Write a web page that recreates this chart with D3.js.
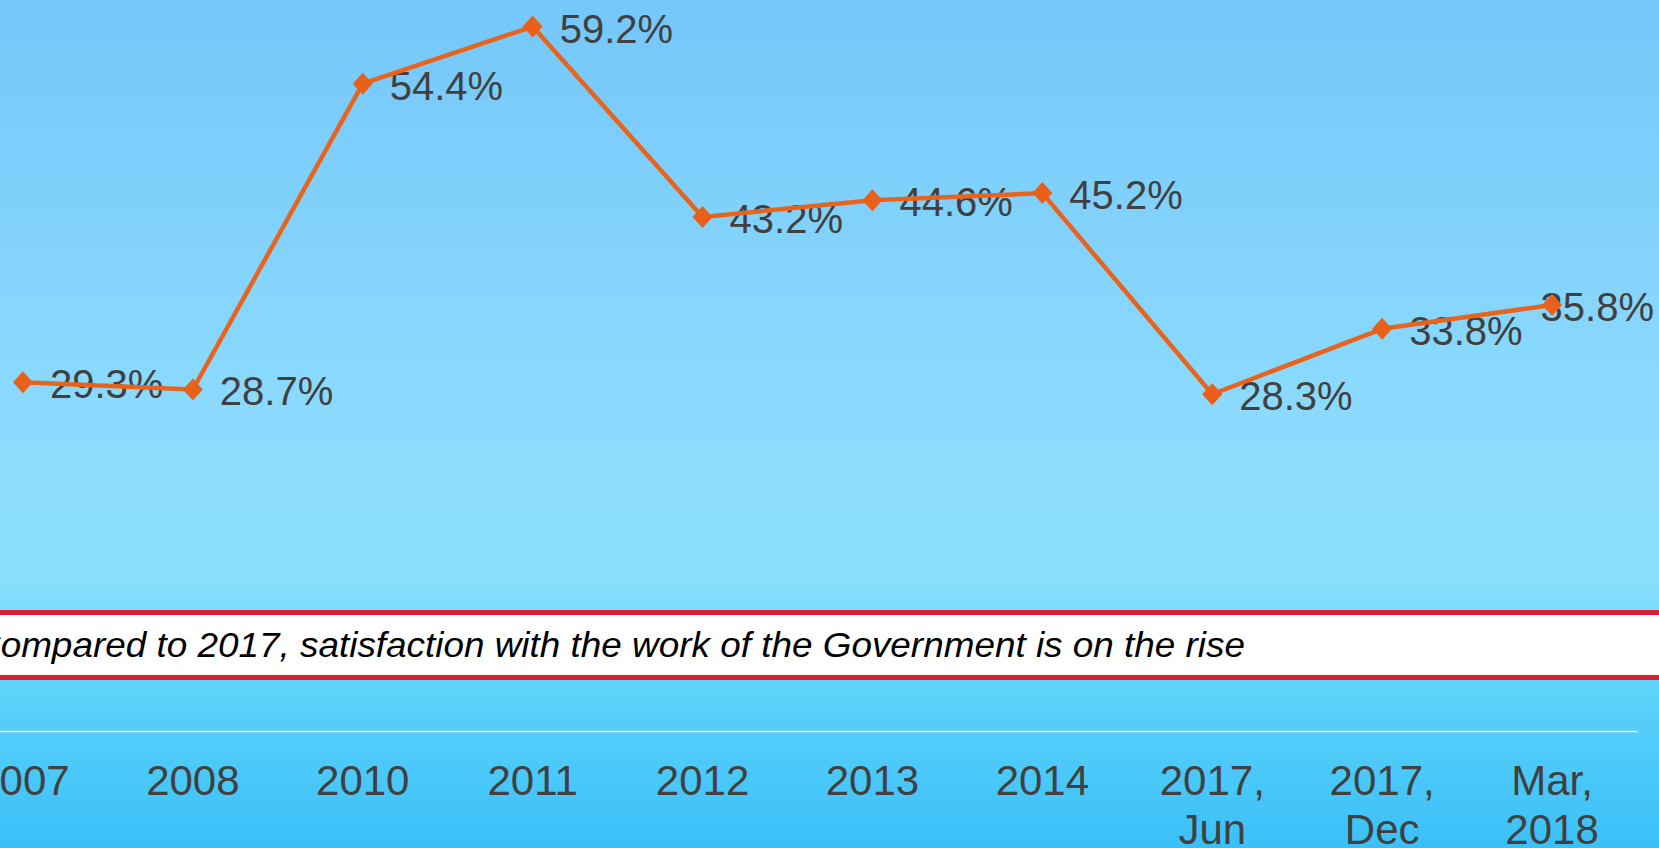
<!DOCTYPE html>
<html>
<head>
<meta charset="utf-8">
<script src="https://cdn.jsdelivr.net/npm/d3@7"></script>
<style>
  body { margin: 0; overflow: hidden; }
  svg { display: block; }
</style>
</head>
<body>
<div id="vis"></div>
<script>
//////// data ////////////////////////////////////////////
const categories = ["2007", "2008", "2010", "2011", "2012", "2013", "2014", "2017,\nJun", "2017,\nDec", "Mar,\n2018"];
const satisfaction = [29.3, 28.7, 54.4, 59.2, 43.2, 44.6, 45.2, 28.3, 33.8, 35.8];
const yDomain = [0, 60];
const bannerText = "Compared to 2017, satisfaction with the work of the Government is on the rise";

//////// setup ///////////////////////////////////////////
const width = 1659;
const height = 848;
const font = "'Liberation Sans', Arial, sans-serif";
const orange = "#E8641C";
const labelColor = "#404040";

const svg = d3.select("#vis")
  .append("svg")
  .attr("width", width)
  .attr("height", height)
  .attr("font-family", font);

// background gradient
const grad = svg.append("defs")
  .append("linearGradient")
  .attr("id", "bg")
  .attr("x1", 0).attr("y1", 0).attr("x2", 0).attr("y2", 1);
[[0, "#75C7FA"], [0.5, "#8CDBFE"], [0.68, "#8ADEFD"], [0.82, "#5CD1FA"], [1, "#3AC0F8"]]
  .forEach(s => grad.append("stop").attr("offset", s[0]).attr("stop-color", s[1]));

svg.append("rect")
  .attr("width", width)
  .attr("height", height)
  .attr("fill", "url(#bg)");

//////// scales //////////////////////////////////////////
const x = d3.scaleBand()
  .domain(categories)
  .range([-62, 1637]);
const cx = d => x(d) + x.bandwidth() / 2;

const y = d3.scaleLinear()
  .domain(yDomain)
  .range([731, 17]);

const points = categories.map((c, i) => ({ cat: c, value: satisfaction[i] }));

//////// axis ////////////////////////////////////////////
const axis = svg.append("g")
  .attr("transform", `translate(0,${y(0)})`)
  .call(d3.axisBottom(x).tickSize(0).tickSizeOuter(0));

axis.select(".domain")
  .attr("stroke", "#E8F8FF")
  .attr("stroke-width", 1.5);

axis.selectAll(".tick text")
  .attr("font-family", font)
  .attr("font-size", 42)
  .attr("fill", labelColor)
  .attr("dy", null)
  .attr("y", null)
  .each(function (d) {
    const t = d3.select(this);
    const lines = d.split("\n");
    t.text(null);
    lines.forEach((ln, i) => {
      t.append("tspan").attr("x", 0).attr("y", 64 + i * 49).text(ln);
    });
  });

//////// banner //////////////////////////////////////////
svg.append("rect")
  .attr("x", -10)
  .attr("y", 612.5)
  .attr("width", width + 20)
  .attr("height", 65)
  .attr("fill", "#FFFFFF")
  .attr("stroke", "#DB1F2E")
  .attr("stroke-width", 5);

svg.append("text")
  .attr("x", -26)
  .attr("y", 657)
  .attr("font-size", 35)
  .attr("font-style", "italic")
  .attr("fill", "#000")
  .attr("textLength", 1271)
  .attr("lengthAdjust", "spacingAndGlyphs")
  .text(bannerText);

//////// labels //////////////////////////////////////////
svg.append("g")
  .selectAll("text")
  .data(points)
  .join("text")
  .attr("font-size", 40)
  .attr("fill", labelColor)
  .attr("y", d => y(d.value) + 16)
  .text(d => d.value.toFixed(1) + "%")
  .attr("x", function (d) {
    const w = this.getComputedTextLength();
    let lx = cx(d.cat) + 27;
    if (lx + w > width - 5) lx = width - 5 - w;
    return lx;
  });

//////// line + markers //////////////////////////////////
const line = d3.line()
  .x(d => cx(d.cat))
  .y(d => y(d.value));

svg.append("path")
  .datum(points)
  .attr("fill", "none")
  .attr("stroke", orange)
  .attr("stroke-width", 4.5)
  .attr("stroke-linejoin", "round")
  .attr("d", line);

svg.append("g")
  .selectAll("path")
  .data(points)
  .join("path")
  .attr("transform", d => `translate(${cx(d.cat)},${y(d.value)})`)
  .attr("d", "M0,-11L10,0L0,11L-10,0Z")
  .attr("fill", "#E8601A");
</script>
</body>
</html>
